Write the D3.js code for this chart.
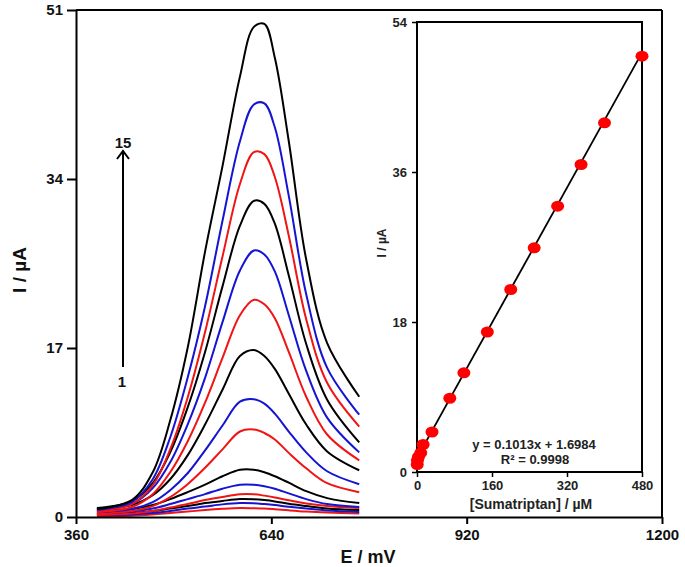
<!DOCTYPE html>
<html>
<head>
<meta charset="utf-8">
<script src="https://cdn.jsdelivr.net/npm/d3@7/dist/d3.min.js"></script>
<style>
  html, body { margin: 0; padding: 0; background: #fff; }
  svg { display: block; }
  text { font-family: "Liberation Sans", Arial, sans-serif; font-weight: bold; }
</style>
</head>
<body>
<svg id="chart" width="685" height="567"></svg>
<script>
// ---------- data ----------
const potentials = [390, 440, 470, 495, 520, 545, 570, 595, 615, 630, 645, 665, 690, 720, 766];
const curve1  = [0.05,0.12,0.25,0.4,0.55,0.7,0.82,0.9,0.88,0.85,0.78,0.67,0.55,0.45,0.35];
const curve2  = [0.15,0.25,0.4,0.6,0.85,1.05,1.27,1.4,1.38,1.3,1.2,1.03,0.85,0.65,0.5];
const curve3  = [0.3,0.4,0.6,0.85,1.1,1.4,1.62,1.8,1.78,1.7,1.57,1.33,1.1,0.85,0.7];
const curve4  = [0.2,0.35,0.6,0.95,1.3,1.7,2.02,2.28,2.28,2.15,1.97,1.68,1.35,1.1,0.9];
const curve5  = [0.4,0.55,0.85,1.3,1.8,2.3,2.85,3.25,3.25,3.1,2.85,2.38,1.8,1.3,1.0];
const curve6  = [0.6,0.8,1.2,1.8,2.5,3.25,4.1,4.75,4.75,4.5,4.1,3.45,2.6,1.9,1.4];
const curve7  = [0.3,0.6,1.1,2.0,3.3,4.95,6.8,8.6,8.8,8.45,7.8,6.45,4.9,3.4,2.5];
const curve8  = [0.5,0.8,1.5,2.7,4.4,6.7,9.2,11.6,11.85,11.4,10.4,8.6,6.5,4.6,3.3];
const curve9  = [0.8,1.2,2.2,3.8,6.2,9.3,12.8,16.2,16.8,16.2,14.9,12.4,9.3,6.6,4.7];
const curve10 = [0.5,1.0,2.3,4.5,7.6,11.5,16,20.3,21.85,21.4,20.0,16.6,12.1,8.3,5.7];
const curve11 = [0.7,1.3,2.9,5.5,9.3,14,19.6,24.8,26.8,26.4,24.7,20.3,14.7,10,6.5];
const curve12 = [0.9,1.6,3.4,6.5,11,16.6,23.2,29.3,31.8,31.5,29.5,24.3,17.4,11.8,7.5];
const curve13 = [0.6,1.3,3.2,6.8,12,18.6,26.2,33.5,36.7,36.5,34.2,28.3,19.9,13.5,9.1];
const curve14 = [0.7,1.5,3.8,8.0,14,21.2,29.8,37.8,41.5,41.6,39.2,32.3,22.4,15,10.3];
const curve15 = [0.8,1.7,4.5,9.7,17,26.7,35.3,44.3,49.3,49.6,46.2,37.8,25.9,17.5,12.1];
const curves = [curve1,curve2,curve3,curve4,curve5,curve6,curve7,curve8,curve9,curve10,curve11,curve12,curve13,curve14,curve15];
const curveColors = ["#f01414","#1414d2","#000000"]; // red, blue, black cycle (curve 1 red)

const mainXTicks = [360, 640, 920, 1200];
const mainYTicks = [0, 17, 34, 51];

const concentrations = [0.5, 1, 3, 8, 13, 32, 70, 100, 150, 200, 250, 300, 350, 400, 480];
const peakCurrents   = [0.9, 1.4, 1.8, 2.3, 3.3, 4.8, 8.85, 11.9, 16.8, 21.9, 26.9, 31.9, 36.9, 41.9, 49.9];
const fitSlope = 0.1013, fitIntercept = 1.6984;
const insetXTicks = [0, 160, 320, 480];
const insetYTicks = [0, 18, 36, 54];

// ---------- drawing ----------
const svg = d3.select("#chart");
svg.append("rect").attr("width",685).attr("height",567).attr("fill","#fff");

const x = d3.scaleLinear().domain([360,1200]).range([76,662]);
const y = d3.scaleLinear().domain([0,51]).range([517,10]);

// curves
const line = d3.line()
  .x((d,i)=>x(potentials[i]))
  .y(d=>y(d))
  .curve(d3.curveCatmullRom.alpha(0.5));
curves.forEach((c,i)=>{
  svg.append("path").attr("d", line(c)).attr("fill","none")
    .attr("stroke", curveColors[i%3]).attr("stroke-width",2);
});

// frame top & right
svg.append("line").attr("x1",x(360)).attr("x2",x(1200)).attr("y1",y(51)).attr("y2",y(51))
  .attr("stroke","#000").attr("stroke-width",2);
svg.append("line").attr("x1",x(1200)).attr("x2",x(1200)).attr("y1",y(51)).attr("y2",y(0))
  .attr("stroke","#000").attr("stroke-width",2);

// axes
const gx = svg.append("g").attr("transform",`translate(0,${y(0)})`)
  .call(d3.axisBottom(x).tickValues(mainXTicks).tickFormat(d3.format("d")).tickSize(7).tickSizeOuter(0).tickPadding(5));
const gy = svg.append("g").attr("transform",`translate(${x(360)},0)`)
  .call(d3.axisLeft(y).tickValues(mainYTicks).tickFormat(d3.format("d")).tickSize(9).tickSizeOuter(0).tickPadding(4));
[gx,gy].forEach(g=>{
  g.selectAll("path,line").attr("stroke","#000").attr("stroke-width",2);
  g.selectAll("text").attr("fill","#111").style("font-size","15px").style("font-weight","bold")
   .style("font-family","'Liberation Sans', Arial, sans-serif");
});

// axis titles
svg.append("text").attr("x",368).attr("y",563).attr("text-anchor","middle")
  .style("font-size","18px").attr("fill","#111").text("E / mV");
svg.append("text").attr("transform","translate(26,270) rotate(-90)").attr("text-anchor","middle")
  .style("font-size","19px").attr("fill","#111").text("I / µA");

// arrow 1 -> 15
svg.append("line").attr("x1",123).attr("x2",123).attr("y1",367).attr("y2",151)
  .attr("stroke","#000").attr("stroke-width",2);
svg.append("path").attr("d","M117,159 L123,151 L129,159").attr("fill","none")
  .attr("stroke","#000").attr("stroke-width",2);
svg.append("text").attr("x",123).attr("y",148).attr("text-anchor","middle")
  .style("font-size","15px").attr("fill","#111").text("15");
svg.append("text").attr("x",122).attr("y",387).attr("text-anchor","middle")
  .style("font-size","15px").attr("fill","#111").text("1");

// ---------- inset ----------
const xi = d3.scaleLinear().domain([0,480]).range([417,642]);
const yi = d3.scaleLinear().domain([0,54]).range([472,22]);
const inset = svg.append("g");
inset.append("rect").attr("x",xi(0)).attr("y",yi(54)).attr("width",xi(480)-xi(0)).attr("height",yi(0)-yi(54))
  .attr("fill","#fff").attr("stroke","#000").attr("stroke-width",2);

// fit line
inset.append("line").attr("x1",xi(0)).attr("y1",yi(fitIntercept))
  .attr("x2",xi(480)).attr("y2",yi(fitSlope*480+fitIntercept))
  .attr("stroke","#000").attr("stroke-width",1.8);

inset.selectAll("ellipse.pt").data(concentrations).enter().append("ellipse")
  .attr("cx",(d)=>xi(d)).attr("cy",(d,i)=>yi(peakCurrents[i]))
  .attr("rx",6.5).attr("ry",5.5).attr("fill","#ff0000");

const gxi = inset.append("g").attr("transform",`translate(0,${yi(0)})`)
  .call(d3.axisBottom(xi).tickValues(insetXTicks).tickSize(5).tickSizeOuter(0).tickPadding(4));
const gyi = inset.append("g").attr("transform",`translate(${xi(0)},0)`)
  .call(d3.axisLeft(yi).tickValues(insetYTicks).tickSize(5).tickSizeOuter(0).tickPadding(5));
[gxi,gyi].forEach(g=>{
  g.selectAll("path").attr("stroke","none");
  g.selectAll("line").attr("stroke","#000").attr("stroke-width",1.5);
  g.selectAll("text").attr("fill","#222").style("font-size","13px").style("font-weight","bold")
   .style("font-family","'Liberation Sans', Arial, sans-serif");
});

inset.append("text").attr("x",531).attr("y",509).attr("text-anchor","middle")
  .style("font-size","14px").attr("fill","#222").text("[Sumatriptan] / µM");
inset.append("text").attr("transform","translate(386,243) rotate(-90)").attr("text-anchor","middle")
  .style("font-size","12px").attr("fill","#222").text("I / µA");

inset.append("text").attr("x",534).attr("y",449).attr("text-anchor","middle")
  .style("font-size","13px").attr("fill","#222").text("y = 0.1013x + 1.6984");
inset.append("text").attr("x",535).attr("y",464).attr("text-anchor","middle")
  .style("font-size","13px").attr("fill","#222").text("R² = 0.9998");
</script>
</body>
</html>
